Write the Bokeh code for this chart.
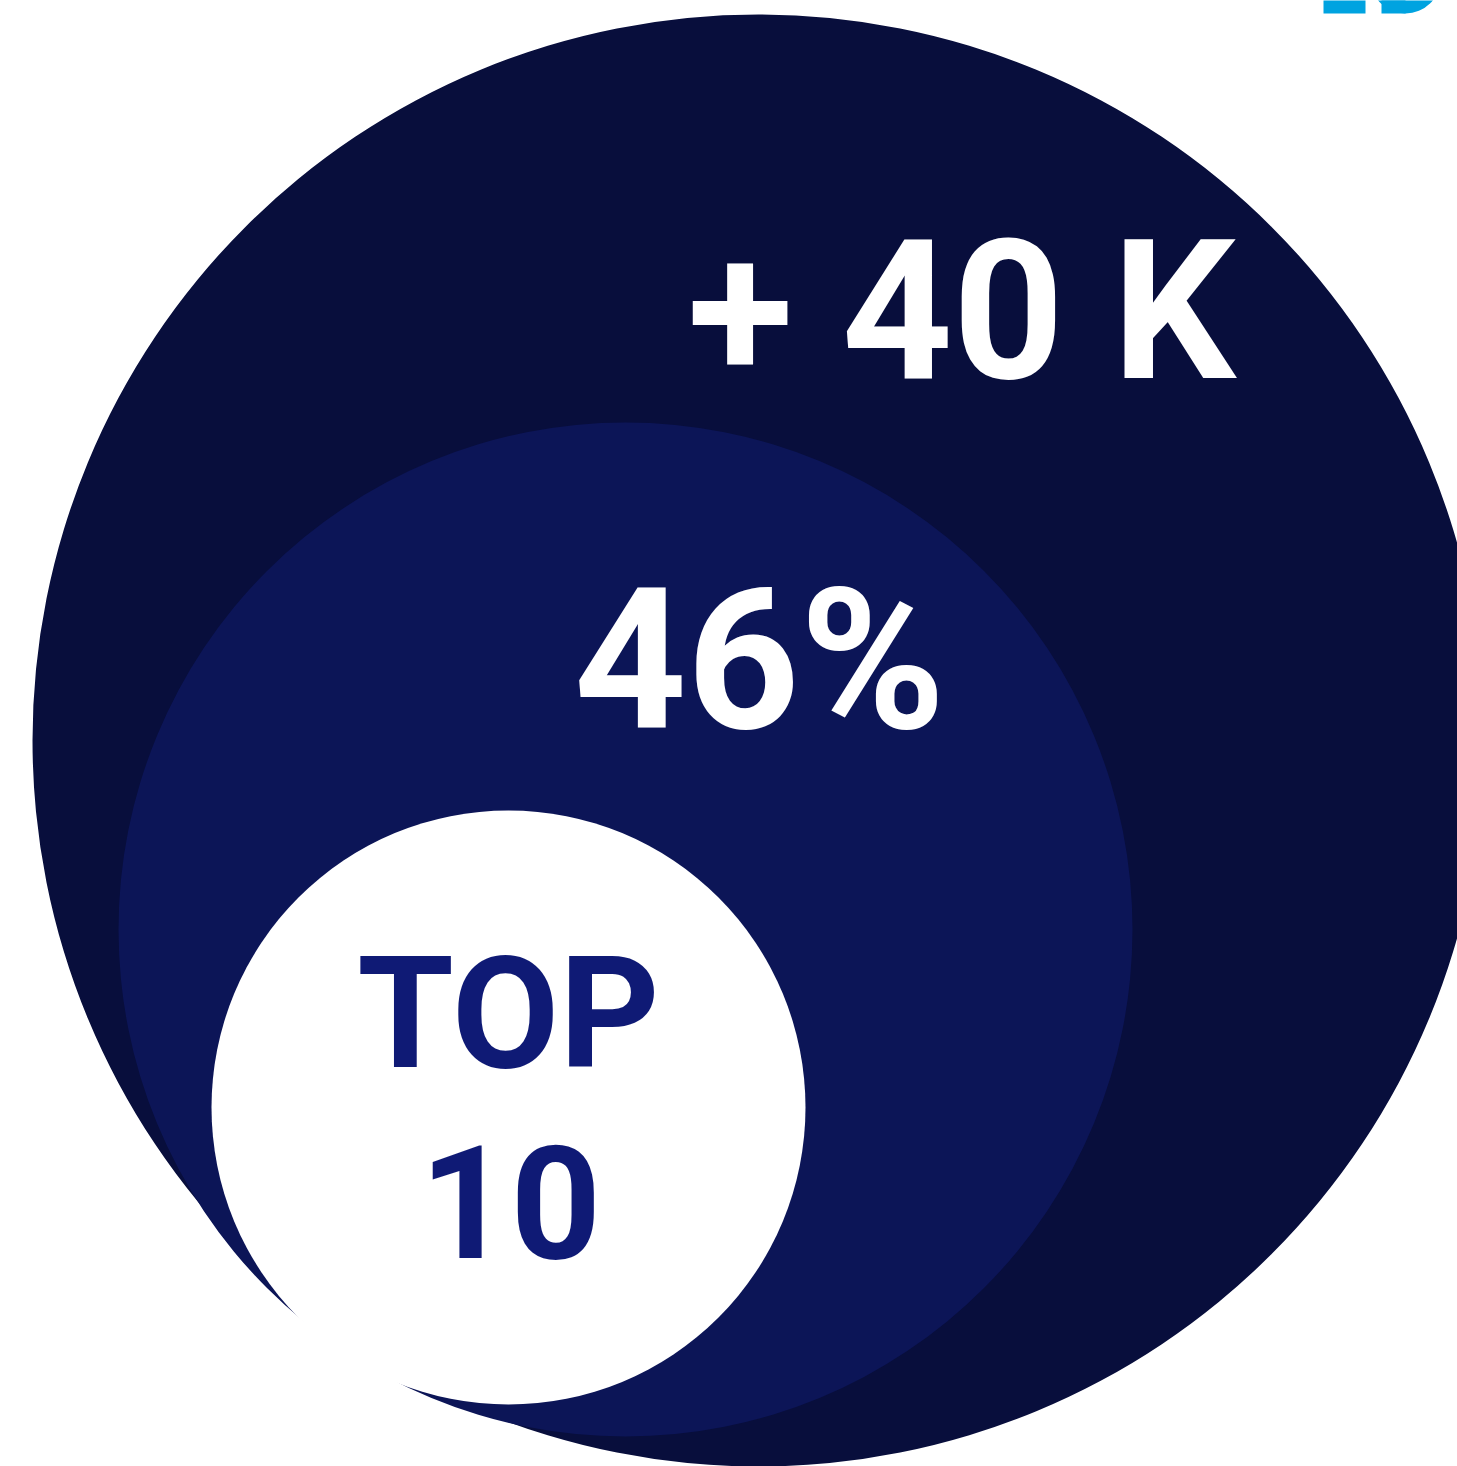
from bokeh.plotting import figure
from bokeh.models import Range1d, Label
from bokeh.embed import file_html
from bokeh.resources import INLINE

# Data: the three nested layers and their labels
layers = ["outer", "middle", "inner", "inner"]
label_texts = ["+ 40 K", "46%", "TOP", "10"]

# Geometry (image-pixel coordinates, y measured from top)
cx = [758, 625, 508]
cy = [740, 929, 1107]
radii = [726, 507, 297]
fills = ["#080E3C", "#0C1557", "#FFFFFF"]

label_x = [961, 759, 508, 510]
label_y = [311, 660, 1013, 1201]
label_size = ["194px", "197px", "156px", "158px"]
label_color = ["#FFFFFF", "#FFFFFF", "#0F1A75", "#0F1A75"]

W, H = 1457, 1466
p = figure(width=W, height=H, output_backend="svg", toolbar_location=None,
           x_range=Range1d(0, W), y_range=Range1d(0, H),
           min_border=0, background_fill_color="white", border_fill_color="white")
p.axis.visible = False
p.grid.visible = False
p.outline_line_color = None

def flip(ys):
    return [H - y for y in ys]

p.ellipse(x=cx, y=flip(cy), width=[2 * r for r in radii], height=[2 * r for r in radii],
          fill_color=fills, line_color=None)

# logo fragment at top right
p.quad(left=[1323, 1381], right=[1365, 1405], top=[H + 20, H + 20], bottom=flip([13, 13]),
       fill_color="#00A3E0", line_color=None)
p.ellipse(x=[1405], y=flip([-22]), width=[70], height=[70], fill_color="#00A3E0", line_color=None)

# note: font sizes of exactly 100px..900px break Bokeh's SVG font parser when bold
for t, x, y, s, c in zip(label_texts, label_x, flip(label_y), label_size, label_color):
    p.add_layout(Label(x=x, y=y, text=t, text_font="Roboto", text_font_style="bold",
                       text_font_size=s, text_color=c, text_align="center",
                       text_baseline="middle"))

open("out.html", "w").write(file_html(p, INLINE))
